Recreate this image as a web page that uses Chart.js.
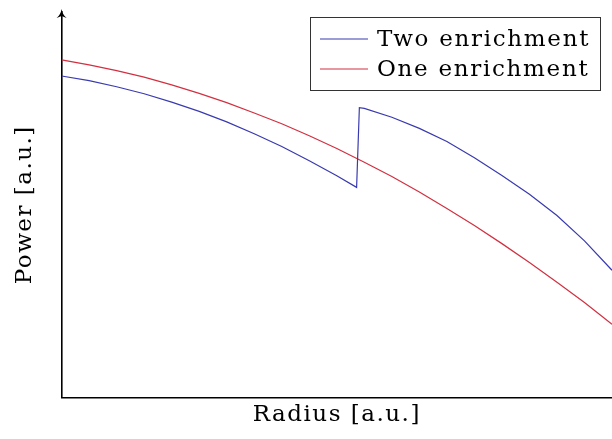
<!DOCTYPE html>
<html>
<head>
<meta charset="utf-8">
<script src="https://cdn.jsdelivr.net/npm/chart.js@4.4.1/dist/chart.umd.min.js"></script>
<style>
html,body{margin:0;padding:0;background:#fff;}
#wrap{width:612px;height:439px;}
</style>
</head>
<body>
<div id="wrap"><canvas id="c" width="612" height="439"></canvas></div>
<script>
// Radius (normalised 0..1) and power values
const radiusOne = [0, 0.05, 0.10, 0.15, 0.20, 0.25, 0.30, 0.35, 0.40, 0.45, 0.50, 0.55, 0.60, 0.65, 0.70, 0.75, 0.80, 0.85, 0.90, 0.95, 1.00];
const powerOne  = [0.876, 0.863, 0.848, 0.831, 0.811, 0.789, 0.765, 0.738, 0.710, 0.679, 0.646, 0.610, 0.573, 0.533, 0.490, 0.446, 0.399, 0.350, 0.299, 0.246, 0.190];

const radiusTwo = [0, 0.05, 0.10, 0.15, 0.20, 0.25, 0.30, 0.35, 0.40, 0.45, 0.50, 0.536, 0.541, 0.55, 0.60, 0.65, 0.70, 0.75, 0.80, 0.85, 0.90, 0.95, 1.00];
const powerTwo  = [0.834, 0.822, 0.806, 0.788, 0.766, 0.742, 0.715, 0.684, 0.651, 0.614, 0.575, 0.545, 0.752, 0.750, 0.727, 0.698, 0.664, 0.622, 0.576, 0.527, 0.472, 0.406, 0.330];

const seriesLabels = ['Two enrichment', 'One enrichment'];
const axisTitles = {x: 'Radius [a.u.]', y: 'Power [a.u.]'};

const FONT = '"DejaVu Serif", serif';
const blue = '#3a3ab0';
const red = '#d23040';

function pts(xs, ys){ return xs.map((x,i)=>({x:x, y:ys[i]})); }

const spacingPlugin = {
  id: 'spacing',
  beforeDraw(chart){ try{ chart.ctx.letterSpacing = '1.5px'; }catch(e){} }
};

const decoPlugin = {
  id: 'deco',
  afterDraw(chart){
    const ctx = chart.ctx;
    const a = chart.chartArea;
    ctx.save();
    ctx.letterSpacing = '0px';
    // arrow on y axis
    ctx.fillStyle = '#000';
    ctx.beginPath();
    ctx.moveTo(a.left, a.top - 3);
    ctx.quadraticCurveTo(a.left + 1, a.top + 3, a.left + 5, a.top + 6);
    ctx.lineTo(a.left, a.top + 4);
    ctx.lineTo(a.left - 5, a.top + 6);
    ctx.quadraticCurveTo(a.left - 1, a.top + 3, a.left, a.top - 3);
    ctx.fill();
    // legend
    const bx = 310, by = 17, bw = 290, bh = 73;
    ctx.strokeStyle = '#333';
    ctx.lineWidth = 1;
    ctx.strokeRect(bx + 0.5, by + 0.5, bw, bh);
    ctx.font = '23px ' + FONT;
    ctx.letterSpacing = '1.7px';
    ctx.textBaseline = 'middle';
    ctx.fillStyle = '#000';
    chart.data.datasets.forEach((ds, i) => {
      const y = by + 22 + i * 30;
      ctx.strokeStyle = ds.borderColor;
      ctx.lineWidth = 1.2;
      ctx.beginPath();
      ctx.moveTo(bx + 10, y);
      ctx.lineTo(bx + 58, y);
      ctx.stroke();
      ctx.fillText(ds.label, bx + 67, y + 1);
    });
    ctx.restore();
  }
};

new Chart(document.getElementById('c'), {
  type: 'line',
  data: {
    datasets: [
      {label: seriesLabels[0], data: pts(radiusTwo, powerTwo), borderColor: blue, borderWidth: 1.2, pointRadius: 0, tension: 0, fill: false},
      {label: seriesLabels[1], data: pts(radiusOne, powerOne), borderColor: red, borderWidth: 1.2, pointRadius: 0, tension: 0, fill: false}
    ]
  },
  options: {
    responsive: false,
    animation: false,
    devicePixelRatio: 1,
    layout: {padding: {top: 12, right: 0, left: 0, bottom: 0}},
    plugins: {legend: {display: false}, tooltip: {enabled: false}},
    scales: {
      x: {
        type: 'linear', min: 0, max: 1,
        ticks: {display: false},
        grid: {display: false, drawTicks: false},
        border: {display: true, color: '#000', width: 1.6},
        title: {display: true, text: axisTitles.x, color: '#000', font: {family: FONT, size: 23}, padding: {top: 4, bottom: 10}}
      },
      y: {
        min: 0, max: 1,
        ticks: {display: false},
        grid: {display: false, drawTicks: false},
        border: {display: true, color: '#000', width: 1.6},
        title: {display: true, text: axisTitles.y, color: '#000', font: {family: FONT, size: 23}, padding: {top: 11, bottom: 23}}
      }
    }
  },
  plugins: [spacingPlugin, decoPlugin]
});
</script>
</body>
</html>
